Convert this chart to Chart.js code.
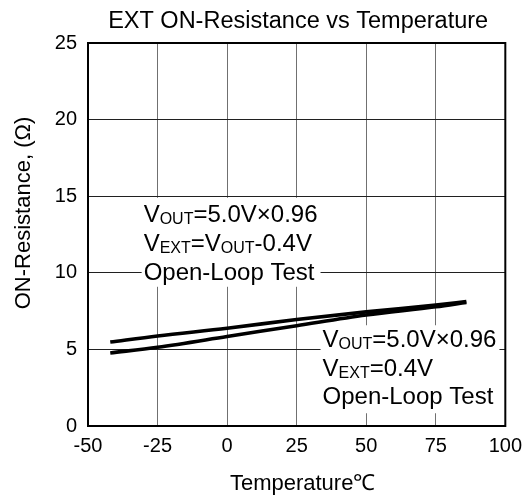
<!DOCTYPE html>
<html>
<head>
<meta charset="utf-8">
<script src="https://cdn.jsdelivr.net/npm/chart.js@4/dist/chart.umd.min.js"></script>
<style>
  html, body { margin: 0; padding: 0; background: #fff; }
  canvas { display: block; }
</style>
</head>
<body>
<canvas id="c" width="530" height="497"></canvas>
<script>
// ---- data ----
const temperatures = [-42, -25, 0, 25, 50, 75, 86];
const onResUpper = [5.48, 5.88, 6.38, 6.95, 7.45, 7.9, 8.12];   // VEXT = VOUT - 0.4V
const onResLower = [4.77, 5.14, 5.84, 6.55, 7.25, 7.78, 8.07];  // VEXT = 0.4V
const xTickValues = [-50, -25, 0, 25, 50, 75, 100];
const yTickValues = [0, 5, 10, 15, 20, 25];

const chartTitle = 'EXT ON-Resistance vs Temperature';
const xTitle = 'Temperature\u2103';
const yTitle = 'ON-Resistance, (\u03A9)';

// annotation texts: segments [text, isSubscript]
const noteUpper = [
  [['V', false], ['OUT', true], ['=5.0V\u00D70.96', false]],
  [['V', false], ['EXT', true], ['=V', false], ['OUT', true], ['-0.4V', false]],
  [['Open-Loop Test', false]]
];
const noteLower = [
  [['V', false], ['OUT', true], ['=5.0V\u00D70.96', false]],
  [['V', false], ['EXT', true], ['=0.4V', false]],
  [['Open-Loop Test', false]]
];

const FONT = "'Liberation Sans', Arial, sans-serif";

function toPoints(xs, ys) { return xs.map((x, i) => ({ x: x, y: ys[i] })); }

const overlay = {
  id: 'overlay',
  beforeDatasetsDraw(chart) {
    const ctx = chart.ctx;
    const a = chart.chartArea;
    const xs = chart.scales.x, ys = chart.scales.y;
    function drawNote(lines, tx, ty, lineH, padTop, padBottom) {
      const x0 = xs.getPixelForValue(tx);
      const y0 = ys.getPixelForValue(ty);
      let maxW = 0;
      lines.forEach(line => {
        let w = 0;
        line.forEach(([t, sub]) => {
          ctx.font = (sub ? '16px ' : '24px ') + FONT;
          w += ctx.measureText(t).width;
        });
        maxW = Math.max(maxW, w);
      });
      ctx.save();
      ctx.fillStyle = '#fff';
      ctx.fillRect(x0 - 2, y0 - padTop, maxW + 5, lineH * (lines.length - 1) + padTop + padBottom);
      ctx.fillStyle = '#000';
      ctx.textBaseline = 'alphabetic';
      ctx.textAlign = 'left';
      lines.forEach((line, i) => {
        let x = x0;
        const y = y0 + i * lineH;
        line.forEach(([t, sub]) => {
          ctx.font = (sub ? '16px ' : '24px ') + FONT;
          ctx.fillText(t, x, sub ? y + 2 : y);
          x += ctx.measureText(t).width;
        });
      });
      ctx.restore();
    }
    drawNote(noteUpper, -30, 13.33, 29, 24, 7);
    drawNote(noteLower, 34.3, 5.14, 28.5, 22, 9);

    // plot frame
    ctx.save();
    ctx.strokeStyle = '#000';
    ctx.lineWidth = 2;
    ctx.strokeRect(a.left, a.top, a.right - a.left, a.bottom - a.top);
    ctx.restore();
  },
  afterDraw(chart) {
    const ctx = chart.ctx;
    const a = chart.chartArea;
    ctx.save();
    ctx.fillStyle = '#000';
    ctx.textAlign = 'center';
    ctx.textBaseline = 'alphabetic';
    ctx.font = '23.5px ' + FONT;
    ctx.fillText(chartTitle, (a.left + a.right) / 2 + 1.5, 27.5);
    ctx.font = '22px ' + FONT;
    ctx.fillText(xTitle, (a.left + a.right) / 2 + 6, 490);
    ctx.translate(30, 213);
    ctx.rotate(-Math.PI / 2);
    ctx.font = '22px ' + FONT;
    ctx.fillText(yTitle, 0, 0);
    ctx.restore();
  }
};

new Chart(document.getElementById('c'), {
  type: 'line',
  data: {
    datasets: [
      { data: toPoints(temperatures, onResUpper), borderColor: '#000', borderWidth: 3.6, pointRadius: 0, cubicInterpolationMode: 'monotone', fill: false },
      { data: toPoints(temperatures, onResLower), borderColor: '#000', borderWidth: 3.6, pointRadius: 0, cubicInterpolationMode: 'monotone', fill: false }
    ]
  },
  options: {
    responsive: false,
    animation: false,
    events: [],
    layout: { padding: { top: 43, right: 22, left: 0, bottom: 0 } },
    plugins: { legend: { display: false }, title: { display: false }, tooltip: { enabled: false } },
    scales: {
      x: {
        type: 'linear', min: -50, max: 100,
        afterBuildTicks(s) { s.ticks = xTickValues.map(v => ({ value: v })); },
        afterFit(s) { s.height = 71; },
        grid: { color: '#707070', lineWidth: 1, drawTicks: false },
        border: { display: false },
        ticks: { color: '#000', font: { family: FONT, size: 20 }, padding: 8, maxRotation: 0, autoSkip: false,
                 callback: v => String(v) }
      },
      y: {
        min: 0, max: 25,
        afterBuildTicks(s) { s.ticks = yTickValues.map(v => ({ value: v })); },
        afterFit(s) { s.width = 88; },
        grid: { color: '#202020', lineWidth: 1, drawTicks: false },
        border: { display: false },
        ticks: { color: '#000', font: { family: FONT, size: 20 }, padding: 11,
                 callback: v => String(v) }
      }
    }
  },
  plugins: [overlay]
});
</script>
</body>
</html>
